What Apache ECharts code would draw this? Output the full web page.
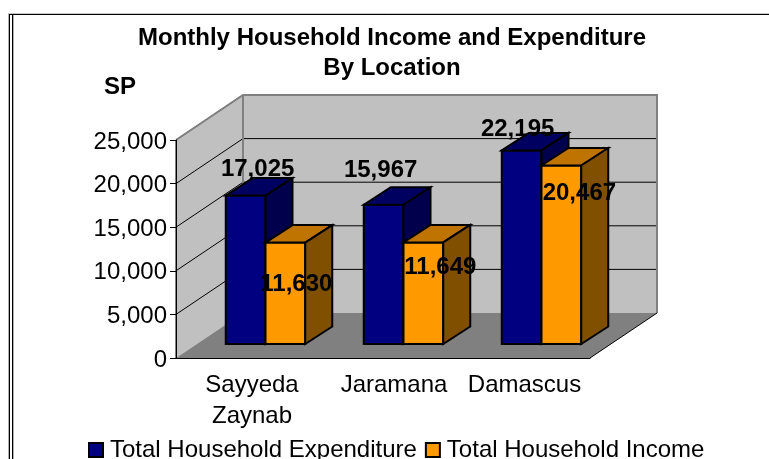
<!DOCTYPE html>
<html>
<head>
<meta charset="utf-8">
<style>html,body{margin:0;padding:0;background:#fff}#chart{width:769px;height:459px}</style>
<script src="https://cdn.jsdelivr.net/npm/echarts@6/dist/echarts.min.js"></script>
</head>
<body>
<div id="chart"></div>
<script>
var categories = ['Sayyeda\nZaynab', 'Jaramana', 'Damascus'];
var expenditure = [17025, 15967, 22195];
var income = [11630, 11649, 20467];
var tickValues = [0, 5000, 10000, 15000, 20000, 25000];

// pseudo 3d look, everything is in pixels
var wallDx = 67, wallDy = 45;     // depth of the chart box
var baseDx = 20.5, baseDy = 14;   // bars stand this far back from the front edge
var barDx = 27, barDy = 17.5;     // depth of one bar
var barRatio = 0.288;             // width of one bar / category band
var FONT = 'Liberation Sans';

// label position relative to the bar's front top centre, placed by hand in the original
var expenditureLabelShift = [[12, -26], [-3, -34], [-4, -21]];
var incomeLabelShift = [[11, 42], [17, 25], [18, 28]];
var categoryShift = [14, 22, 7];

function renderWalls(params, api) {
    var cs = params.coordSys;
    var x0 = cs.x, x1 = cs.x + cs.width;
    var y0 = api.coord([0, 0])[1], yTop = api.coord([0, 25000])[1];
    var children = [
        poly([[x0, yTop], [x0 + wallDx, yTop - wallDy], [x0 + wallDx, y0 - wallDy], [x0, y0]], '#c0c0c0'),
        poly([[x0 + wallDx, yTop - wallDy], [x1 + wallDx, yTop - wallDy], [x1 + wallDx, y0 - wallDy], [x0 + wallDx, y0 - wallDy]], '#c0c0c0'),
        poly([[x0, y0], [x0 + wallDx, y0 - wallDy], [x1 + wallDx, y0 - wallDy], [x1, y0]], '#808080')
    ];
    tickValues.forEach(function (v) {
        var y = api.coord([0, v])[1];
        if (v > 0) {
            children.push(line([[x0, y], [x0 + wallDx, y - wallDy], [x1 + wallDx, y - wallDy]], '#000', 1));
        }
    });
    // wall outline
    children.push(line([[x0, yTop], [x0 + wallDx, yTop - wallDy], [x1 + wallDx, yTop - wallDy], [x1 + wallDx, y0 - wallDy]], '#808080', 2));
    children.push(line([[x0 + wallDx, yTop - wallDy], [x0 + wallDx, y0 - wallDy]], '#808080', 2));
    children.push(line([[x1, y0], [x1 + wallDx, y0 - wallDy]], '#000', 1));
    children.push(line([[x0, y0], [x0, yTop]], '#000', 1));
    return { type: 'group', children: children };
}

function poly(points, fill, stroke) {
    return {
        type: 'polygon',
        shape: { points: points },
        style: { fill: fill, stroke: stroke || null, lineWidth: stroke ? 2 : 0, lineJoin: 'miter' }
    };
}

function line(points, color, width) {
    return {
        type: 'polyline',
        shape: { points: points },
        style: { fill: null, stroke: color, lineWidth: width }
    };
}

function barRenderer(seriesIndex, values, colors, labelShift) {
    return function (params, api) {
        var idx = api.value(0);
        var val = api.value(1);
        var top = api.coord([idx, val]);
        var bottom = api.coord([idx, 0]);
        var w = api.size([1, 0])[0] * barRatio;
        var left = top[0] + (seriesIndex - 1) * w + baseDx;
        var right = left + w;
        var t = top[1] - baseDy;
        var b = bottom[1] - baseDy;
        var cx = (left + right) / 2;
        return {
            type: 'group',
            children: [
                poly([[left, t], [right, t], [right, b], [left, b]], colors[0], '#000'),
                poly([[left, t], [left + barDx, t - barDy], [right + barDx, t - barDy], [right, t]], colors[1], '#000'),
                poly([[right, t], [right + barDx, t - barDy], [right + barDx, b - barDy], [right, b]], colors[2], '#000'),
                {
                    type: 'text',
                    z2: 50,
                    style: {
                        text: values[idx].toLocaleString('en-US'),
                        x: cx + labelShift[idx][0],
                        y: t + labelShift[idx][1],
                        align: 'center',
                        verticalAlign: 'middle',
                        fill: '#000',
                        font: 'bold 24px "' + FONT + '"'
                    }
                }
            ]
        };
    };
}

function toPairs(values) {
    return values.map(function (v, i) { return [i, v]; });
}

function frameLine(x1, y1, x2, y2, color) {
    return { type: 'line', silent: true, shape: { x1: x1, y1: y1, x2: x2, y2: y2 }, style: { stroke: color, lineWidth: 1 } };
}

var chart = echarts.init(document.getElementById('chart'), null, { renderer: 'canvas' });

chart.setOption({
    animation: false,
    backgroundColor: '#fff',
    textStyle: { fontFamily: FONT },
    title: {
        text: 'Monthly Household Income and Expenditure\nBy Location',
        left: 387,
        top: 18,
        textAlign: 'center',
        textStyle: { fontFamily: FONT, fontSize: 24, fontWeight: 'bold', color: '#000', lineHeight: 30 }
    },
    legend: {
        data: ['Total Household Expenditure', 'Total Household Income'],
        left: 88,
        top: 438,
        padding: 0,
        itemGap: 8,
        itemWidth: 14,
        itemHeight: 14,
        icon: 'rect',
        selectedMode: false,
        itemStyle: { borderColor: '#000', borderWidth: 2 },
        textStyle: { fontFamily: FONT, fontSize: 24, color: '#000', padding: [0, 0, 0, 2] }
    },
    grid: { left: 176, right: 179, top: 140, bottom: 101 },
    xAxis: {
        type: 'category',
        data: categories.map(function (c, i) {
            return { value: c, textStyle: { padding: [0, 0, 0, categoryShift[i]] } };
        }),
        z: 5,
        axisLine: { lineStyle: { color: '#000', width: 1 } },
        axisTick: { length: 6, lineStyle: { color: '#000' } },
        axisLabel: { interval: 0, margin: 12, fontSize: 24, color: '#000', lineHeight: 31, fontFamily: FONT }
    },
    yAxis: {
        type: 'value',
        min: 0,
        max: 25000,
        interval: 5000,
        z: 5,
        name: 'SP',
        nameLocation: 'end',
        nameGap: 41,
        nameTextStyle: { fontFamily: FONT, fontSize: 24, fontWeight: 'bold', color: '#000', padding: [0, 112, 0, 0] },
        axisLine: { show: true, lineStyle: { color: '#000', width: 1 } },
        axisTick: { show: true, length: 6, lineStyle: { color: '#000' } },
        splitLine: { show: false },
        axisLabel: {
            margin: 9,
            fontSize: 24,
            color: '#000',
            fontFamily: FONT,
            verticalAlign: 'top',
            lineHeight: 4,  // sits 2px below the tick like the original
            formatter: function (v) { return v.toLocaleString('en-US'); }
        }
    },
    series: [
        {
            name: 'walls',
            type: 'custom',
            z: 1,
            silent: true,
            coordinateSystem: 'cartesian2d',
            data: [[0, 0]],
            renderItem: renderWalls
        },
        {
            name: 'Total Household Expenditure',
            type: 'custom',
            z: 2,
            itemStyle: { color: '#000080' },
            encode: { x: 0, y: 1 },
            data: toPairs(expenditure),
            renderItem: barRenderer(0, expenditure, ['#000080', '#000060', '#00004d'], expenditureLabelShift)
        },
        {
            name: 'Total Household Income',
            type: 'custom',
            z: 3,
            itemStyle: { color: '#ff9900' },
            encode: { x: 0, y: 1 },
            data: toPairs(income),
            renderItem: barRenderer(1, income, ['#ff9900', '#bf7300', '#805000'], incomeLabelShift)
        }
    ],
    graphic: [
        frameLine(8, 13.5, 769, 13.5, '#c8c8c8'),
        frameLine(9, 14.5, 769, 14.5, '#000'),
        frameLine(8.5, 14, 8.5, 459, '#b0b0b0'),
        frameLine(9.5, 14, 9.5, 459, '#000'),
        frameLine(12.5, 15, 12.5, 459, '#000'),
        frameLine(13.5, 15, 13.5, 459, '#b0b0b0')
    ]
});
</script>
</body>
</html>
